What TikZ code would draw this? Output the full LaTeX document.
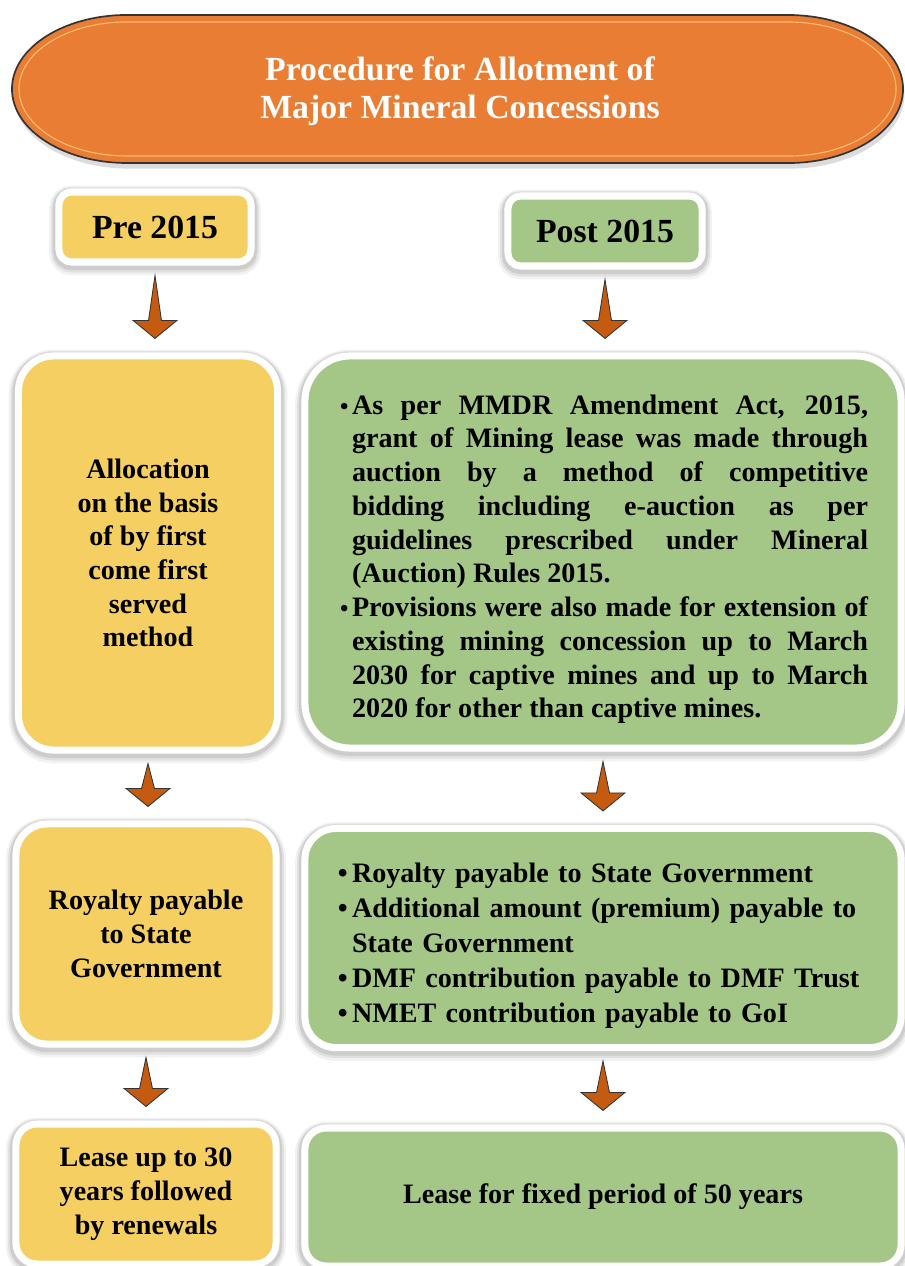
\documentclass[tikz,border=0pt]{standalone}
\usepackage{fontspec}
\setmainfont{Liberation Serif}
\usepackage{enumitem}
\usetikzlibrary{calc,shadows}

\definecolor{preyellow}{RGB}{245,207,98}
\definecolor{postgreen}{RGB}{164,199,135}
\definecolor{titleorange}{RGB}{233,125,52}
\definecolor{arrowbrown}{RGB}{197,90,17}

\tikzset{
	halo/.style={
		preaction={draw=black, draw opacity=.05, line width=14pt, transform canvas={yshift=-2.5pt}},
		preaction={draw=black, draw opacity=.07, line width=11pt, transform canvas={yshift=-2pt}},
		preaction={draw=black, draw opacity=.09, line width=8.5pt, transform canvas={yshift=-1.5pt}}},
	box/.style={halo, draw=white, line width=5pt, align=center, inner sep=0pt,
		font=\fontsize{20}{24}\selectfont\bfseries},
	prebox/.style={box, fill=preyellow},
	postbox/.style={box, fill=postgreen},
	arrowhead/.style={fill=arrowbrown, draw=black!80, line width=.6pt, line join=miter},
}

% down arrow from one box to the next
\newcommand{\flowarrow}[2]{%
	\filldraw[arrowhead] let \p1=($(#1.south)+(0,10)$), \p2=($(#2.north)+(0,-14)$) in
	(\x1,\y1) -- (\x1+4.6pt,\y2+12.8pt) -- (\x1+15.6pt,\y2+12.8pt) -- (\x1,\y2)
	-- (\x1-15.6pt,\y2+12.8pt) -- (\x1-4.6pt,\y2+12.8pt) -- cycle;}

\begin{document}
\begin{tikzpicture}[x=0.025cm,y=-0.025cm]
	\useasboundingbox (0,0) rectangle (904,1266);
	% title
	\filldraw[fill=titleorange, draw=black!80, line width=1.2pt,
		drop shadow={shadow xshift=1pt, shadow yshift=-4pt, opacity=.3, fill=black!45}]
		(127,15) -- (788,15) arc[start angle=90, end angle=-90, x radius=2.875cm, y radius=1.85cm]
		-- (127,163) arc[start angle=270, end angle=90, x radius=2.875cm, y radius=1.85cm] -- cycle;
	\draw[orange!55!white, line width=.8pt]
		(127,22) -- (788,22) arc[start angle=90, end angle=-90, x radius=2.7cm, y radius=1.675cm]
		-- (127,156) arc[start angle=270, end angle=90, x radius=2.7cm, y radius=1.675cm] -- cycle;
	\node[white, align=center, font=\fontsize{24}{27}\selectfont\bfseries] (title) at (460,91)
		{Procedure for Allotment of\\ Major Mineral Concessions};

	\node[prebox, rounded corners=9pt, minimum width=4.8cm, minimum height=1.75cm,
		font=\fontsize{24}{27}\selectfont\bfseries] (pre) at (155,227) {Pre 2015};
	\node[postbox, rounded corners=9pt, minimum width=4.85cm, minimum height=1.75cm,
		font=\fontsize{24}{27}\selectfont\bfseries] (post) at (605,231) {Post 2015};

	\node[prebox, rounded corners=25pt, minimum width=6.475cm, minimum height=9.85cm] (alloc) at (148,553)
		{Allocation\\ on the basis\\ of by first\\ come first\\ served\\ method};
	\node[postbox, rounded corners=32pt, minimum width=14.9cm, minimum height=9.8cm,
		text width=13.25cm, align=justify] (auction) at (603,552) {%
		\begin{itemize}[leftmargin=10pt, labelsep=2.5pt, itemsep=0pt, topsep=0pt, parsep=0pt,
			partopsep=0pt, label={\fontsize{17}{17}\selectfont\textbullet}]
			\item As per MMDR Amendment Act, 2015,\linebreak
			grant of Mining lease was made through\linebreak
			auction by a method of competitive\linebreak
			bidding including e-auction as per\linebreak
			guidelines prescribed under Mineral\linebreak
			(Auction) Rules 2015.
			\item Provisions were also made for extension of\linebreak
			existing mining concession up to March\linebreak
			2030 for captive mines and up to March\linebreak
			2020 for other than captive mines.
		\end{itemize}};

	\node[prebox, rounded corners=22pt, minimum width=6.5cm, minimum height=5.5cm] (royalty) at (146,934)
		{Royalty payable\\ to State\\ Government};
	\node[postbox, rounded corners=22pt, minimum width=14.9cm, minimum height=5.475cm,
		text width=13.25cm, align=left, font=\fontsize{20}{25}\selectfont\bfseries] (payments) at (603,938) {%
		\begin{itemize}[leftmargin=10pt, labelsep=3pt, itemsep=0pt, topsep=0pt, parsep=0pt,
			partopsep=0pt, label=\textbullet]
			\item Royalty payable to State Government
			\item Additional amount (premium) payable to\newline State Government
			\item DMF contribution payable to DMF Trust
			\item NMET contribution payable to GoI
		\end{itemize}};

	\node[prebox, rounded corners=15pt, minimum width=6.5cm, minimum height=3.5cm] (lease) at (146,1194)
		{Lease up to 30\\ years followed\\ by renewals};
	\node[postbox, rounded corners=15pt, minimum width=14.9cm, minimum height=3.45cm] (fixed) at (603,1197)
		{Lease for fixed period of 50 years};

	% arrows
	\flowarrow{pre}{alloc}
	\flowarrow{post}{auction}
	\flowarrow{alloc}{royalty}
	\flowarrow{auction}{payments}
	\flowarrow{royalty}{lease}
	\flowarrow{payments}{fixed}
\end{tikzpicture}
\end{document}
